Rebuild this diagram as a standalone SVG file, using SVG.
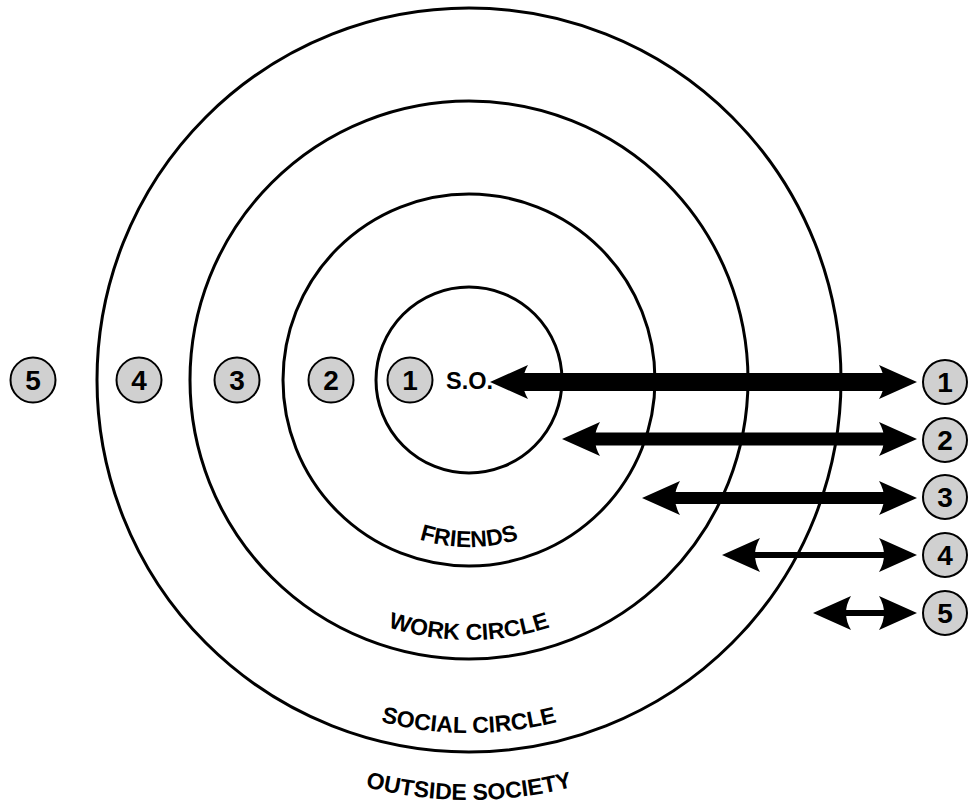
<svg xmlns="http://www.w3.org/2000/svg" width="971" height="809" viewBox="0 0 971 809">
<style>
.ring{fill:none;stroke:#000;stroke-width:3}
.badge{fill:#d0d0d0;stroke:#000;stroke-width:2}
.num{font-family:"Liberation Sans",Arial,sans-serif;font-weight:bold;font-size:28px;text-anchor:middle;fill:#000}
.lbl{font-family:"Liberation Sans",Arial,sans-serif;font-weight:bold;font-size:23px;fill:#000}
.arr{fill:#000}
</style>
<defs>
<path id="pF" d="M302 380 A167 167 0 0 0 636 380"/>
<path id="pW" d="M209 380 A260 260 0 0 0 729 380"/>
<path id="pS" d="M116 380 A353 353 0 0 0 822 380"/>
<path id="pO" d="M49 380 A420 420 0 0 0 889 380"/>
</defs>
<rect width="971" height="809" fill="#fff"/>
<g id="rings">
<circle class="ring" cx="469" cy="380" r="93"/>
<circle class="ring" cx="469" cy="380" r="186"/>
<circle class="ring" cx="469" cy="380" r="279"/>
<circle class="ring" cx="469" cy="380" r="372"/>
</g>
<g id="labels">
<text class="lbl"><textPath href="#pF" startOffset="50%" text-anchor="middle">FRIENDS</textPath></text>
<text class="lbl"><textPath href="#pW" startOffset="50%" text-anchor="middle">WORK CIRCLE</textPath></text>
<text class="lbl"><textPath href="#pS" startOffset="50%" text-anchor="middle">SOCIAL CIRCLE</textPath></text>
<text class="lbl"><textPath href="#pO" startOffset="50%" text-anchor="middle">OUTSIDE SOCIETY</textPath></text>
</g>
<g id="so"><text x="446" y="389" class="lbl" style="font-size:23.5px">S.O.</text></g>
<g id="left-badges">
<g id="L5"><circle class="badge" cx="33" cy="380" r="22.5"/><text class="num" x="33" y="390">5</text></g>
<g id="L4"><circle class="badge" cx="139" cy="380" r="22.5"/><text class="num" x="139" y="390">4</text></g>
<g id="L3"><circle class="badge" cx="237" cy="380" r="22.5"/><text class="num" x="237" y="390">3</text></g>
<g id="L2"><circle class="badge" cx="331" cy="380" r="22.5"/><text class="num" x="331" y="390">2</text></g>
<g id="L1"><circle class="badge" cx="410" cy="380" r="22.5"/><text class="num" x="410" y="390">1</text></g>
</g>
<g id="right-badges">
<g id="R1"><circle class="badge" cx="945" cy="382" r="22"/><text class="num" x="945" y="392">1</text></g>
<g id="R2"><circle class="badge" cx="945" cy="440" r="22"/><text class="num" x="945" y="450">2</text></g>
<g id="R3"><circle class="badge" cx="945" cy="497" r="22"/><text class="num" x="945" y="507">3</text></g>
<g id="R4"><circle class="badge" cx="945" cy="555" r="22"/><text class="num" x="945" y="565">4</text></g>
<g id="R5"><circle class="badge" cx="945" cy="613" r="22"/><text class="num" x="945" y="623">5</text></g>
</g>
<g id="connectors" class="arr">
<g id="a1">
<rect x="520" y="373" width="367" height="18"/>
<path d="M490 382 L528 365 Q518 382 528 399 Z"/>
<path d="M917 382 L879 365 Q889 382 879 399 Z"/>
</g>
<g id="a2">
<rect x="592" y="432.5" width="295" height="13"/>
<path d="M562 439 L600 422 Q590 439 600 456 Z"/>
<path d="M917 439 L879 422 Q889 439 879 456 Z"/>
</g>
<g id="a3">
<rect x="672" y="492" width="215" height="12"/>
<path d="M642 498 L680 481 Q670 498 680 515 Z"/>
<path d="M917 498 L879 481 Q889 498 879 515 Z"/>
</g>
<g id="a4">
<rect x="752" y="552" width="135" height="6"/>
<path d="M722 555 L760 538 Q750 555 760 572 Z"/>
<path d="M917 555 L879 538 Q889 555 879 572 Z"/>
</g>
<g id="a5">
<rect x="843" y="610" width="44" height="6"/>
<path d="M813 613 L851 596 Q841 613 851 630 Z"/>
<path d="M917 613 L879 596 Q889 613 879 630 Z"/>
</g>
</g>
</svg>
